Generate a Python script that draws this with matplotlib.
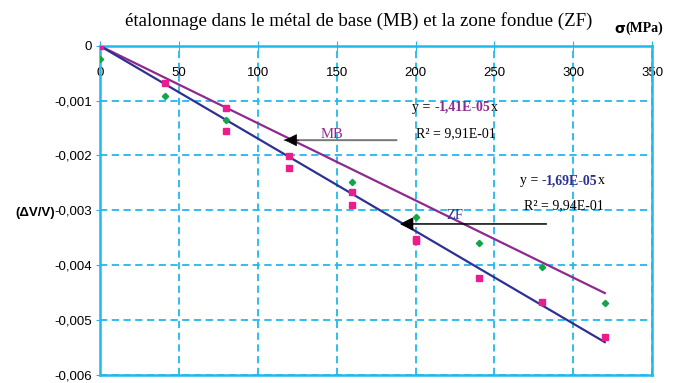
import numpy as np
import matplotlib
matplotlib.use("Agg")
import matplotlib.pyplot as plt
from matplotlib.ticker import FuncFormatter, MultipleLocator
from matplotlib.offsetbox import TextArea, HPacker, AnnotationBbox

# contraintes appliquées (MPa) et déformation volumique mesurée
sigma_zf = [0, 41, 80, 80, 120, 120, 160, 160, 200, 200, 240, 280, 320]
dvv_zf = [0, -0.00067, -0.00114, -0.00155, -0.00201, -0.00222, -0.00266,
          -0.00291, -0.00352, -0.00356, -0.00423, -0.00467, -0.00532]

sigma_mb = [0, 41, 80, 160, 200, 240, 280, 320]
dvv_mb = [-0.00024, -0.00092, -0.00135, -0.00248, -0.00313, -0.00359,
          -0.00403, -0.00469]

# droites de régression (passant par l'origine)
pente_mb = -1.41e-05
pente_zf = -1.69e-05
r2_mb = "9,91E-01"
r2_zf = "9,94E-01"
x_fit = [0, 320]

grid_col = "#22B8EE"
pink = "#EC1C8C"
green = "#12A54A"
purple = "#8E2A8E"
blue = "#2E3192"

fig = plt.figure(figsize=(6.85, 3.83), dpi=100)
ax = fig.add_axes([0.146, 0.022, 0.806, 0.858])

ax.plot(x_fit, [pente_mb * v for v in x_fit], color=purple, lw=1.6, zorder=3)
ax.plot(x_fit, [pente_zf * v for v in x_fit], color=blue, lw=1.6, zorder=3)
ax.plot(sigma_mb, dvv_mb, ls="none", marker="D", ms=3.2, color=green, zorder=4)
ax.plot(sigma_zf, dvv_zf, ls="none", marker="s", ms=4.3, color=pink, zorder=4)

ax.set_xlim(0, 350)
ax.set_ylim(-0.006, 0)
ax.xaxis.set_major_locator(MultipleLocator(50))
ax.yaxis.set_major_locator(MultipleLocator(0.001))
ax.yaxis.set_major_formatter(FuncFormatter(
    lambda v, p: "0" if abs(v) < 1e-12 else f"{v:.3f}".replace(".", ",")))

ax.grid(True, color=grid_col, ls=(0, (4, 2.5)), lw=1.3)
for s in ax.spines.values():
    s.set_color(grid_col)
    s.set_linewidth(1.8)

tick_fam = ["Liberation Sans Narrow", "Liberation Sans"]
ax.xaxis.set_ticks_position("top")
ax.tick_params(axis="x", direction="inout", length=7, color=grid_col,
               labeltop=True, labelbottom=False, pad=-27)
ax.tick_params(axis="y", direction="out", length=3, color=grid_col, pad=3)
for lab in ax.get_xticklabels() + ax.get_yticklabels():
    lab.set_fontfamily(tick_fam)
    lab.set_fontsize(9.5)

serif = "Liberation Serif"
fig.text(0.523, 0.945, "étalonnage dans le métal de base (MB) et la zone fondue (ZF)",
         ha="center", va="center", family=serif, fontsize=13.6)
fig.text(0.897, 0.925, "σ", ha="left", va="center", family="DejaVu Sans",
         fontsize=10, fontweight="bold")
fig.text(0.913, 0.925, "(MPa)", ha="left", va="center", family=serif,
         fontsize=10, fontweight="bold")
fig.text(0.022, 0.444, "(ΔV/V)", ha="left", va="center",
         family="Liberation Sans", fontsize=9.5, fontweight="bold")

# flèches de repérage des deux droites
ax.annotate("", xy=(117, -0.00172), xytext=(188, -0.00172),
            arrowprops=dict(arrowstyle="-", color="#777777", lw=1.4,
                            shrinkA=0, shrinkB=0))
ax.annotate("", xy=(117, -0.00172), xytext=(126, -0.00172),
            arrowprops=dict(arrowstyle="-|>", color="black", lw=0.5,
                            mutation_scale=20, shrinkA=0, shrinkB=0))
ax.annotate("", xy=(190, -0.00325), xytext=(283, -0.00325),
            arrowprops=dict(arrowstyle="-|>", color="black", lw=1.1,
                            mutation_scale=20, shrinkA=0, shrinkB=0))
ax.text(147, -0.00161, "MB", color=purple, family=serif, fontsize=10.5,
        ha="center", va="center")
ax.text(225, -0.00309, "ZF", color=blue, family=serif, fontsize=10.5,
        ha="center", va="center")


def equation(x, y, pente, couleur):
    coef = f"{pente:.2E}".replace(".", ",").replace("-", "", 1)
    parts = [TextArea("y = ", textprops=dict(family=serif, size=10)),
             TextArea("-", textprops=dict(family=serif, size=10, weight="bold")),
             TextArea(coef, textprops=dict(family=serif, size=10,
                                           weight="bold", color=couleur)),
             TextArea("x", textprops=dict(family=serif, size=10))]
    box = HPacker(children=parts, pad=0, sep=0, align="baseline")
    ab = AnnotationBbox(box, (x, y), box_alignment=(0, 0.5), frameon=False,
                        pad=0, zorder=5)
    ax.add_artist(ab)


equation(198, -0.00112, pente_mb, purple)
ax.text(200.5, -0.00161, f"R² = {r2_mb}", family=serif, fontsize=10,
        ha="left", va="center")
equation(266, -0.00246, pente_zf, blue)
ax.text(269, -0.00291, f"R² = {r2_zf}", family=serif, fontsize=10,
        ha="left", va="center")

fig.savefig("out.png", dpi=100)
